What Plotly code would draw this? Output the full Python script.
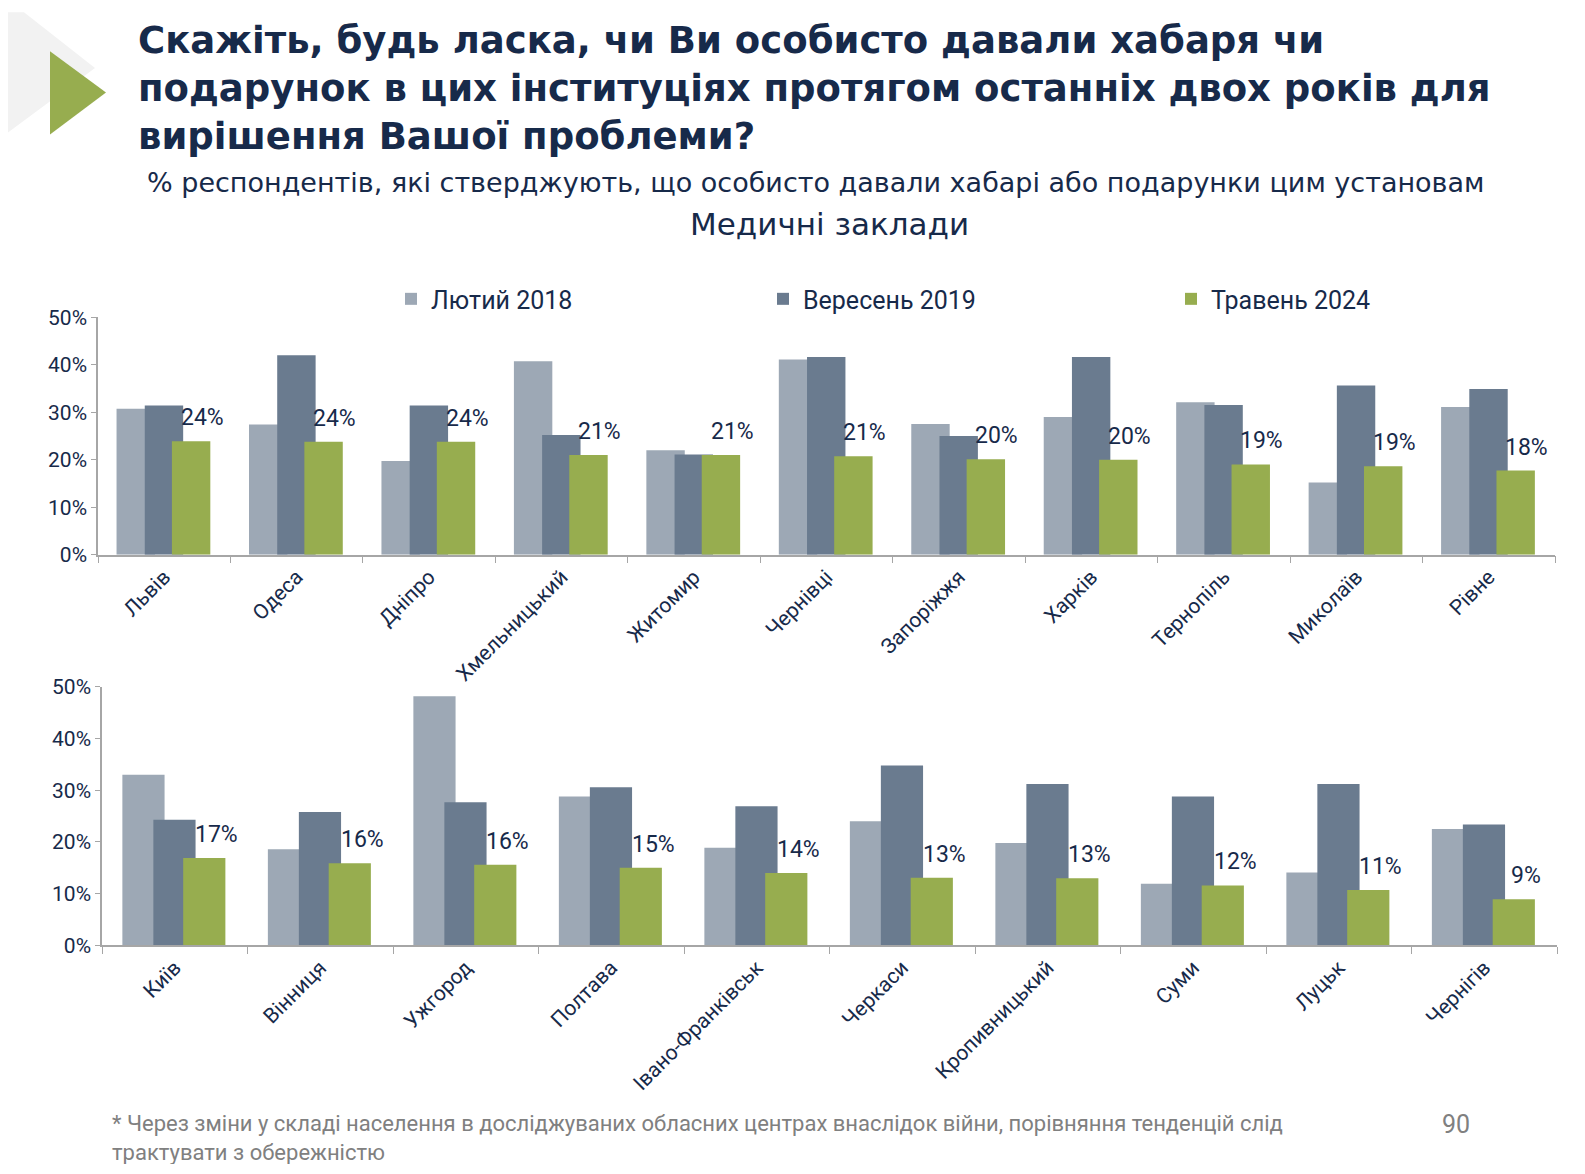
import plotly.graph_objects as go

W, H = 1585, 1174
OFF = 8  # page body margin
FW, FH = W - 2 * OFF, H - 2 * OFF - 2

top_cities = ["Львів", "Одеса", "Дніпро", "Хмельницький", "Житомир", "Чернівці",
              "Запоріжжя", "Харків", "Тернопіль", "Миколаїв", "Рівне"]
top_2018 = [30.7, 27.4, 19.7, 40.7, 22.0, 41.1, 27.5, 29.0, 32.1, 15.2, 31.1]
top_2019 = [31.4, 42.0, 31.4, 25.2, 21.1, 41.6, 25.0, 41.6, 31.5, 35.6, 34.9]
top_2024 = [23.9, 23.8, 23.8, 21.0, 21.0, 20.7, 20.1, 20.0, 19.0, 18.6, 17.7]

bot_cities = ["Київ", "Вінниця", "Ужгород", "Полтава", "Івано-Франківськ", "Черкаси",
              "Кропивницький", "Суми", "Луцьк", "Чернігів"]
bot_2018 = [33.0, 18.6, 48.2, 28.8, 18.9, 24.0, 19.8, 11.9, 14.1, 22.5]
bot_2019 = [24.3, 25.8, 27.7, 30.6, 26.9, 34.8, 31.2, 28.8, 31.2, 23.4]
bot_2024 = [16.9, 15.9, 15.6, 15.0, 14.0, 13.1, 13.0, 11.6, 10.7, 8.9]

series_names = ["Лютий 2018", "Вересень 2019", "Травень 2024"]
colors = ["#9da8b5", "#6a7b8f", "#97ad4f"]
offsets = [-0.36, -0.147, 0.058]
BW = 0.29

NAVY = "#172a4a"
CH_FONT = "Liberation Sans Narrow, Roboto, sans-serif"

def px(x):
    return (x - OFF) / FW

def py(y):
    return 1 - (y - OFF) / FH

fig = go.Figure()

top_series = [top_2018, top_2019, top_2024]
bot_series = [bot_2018, bot_2019, bot_2024]
legends = ["legend", "legend2", "legend3"]

for i in range(3):
    fig.add_trace(go.Bar(x=top_cities, y=top_series[i], name=series_names[i],
                         marker=dict(color=colors[i], line=dict(width=0)),
                         width=BW, offset=offsets[i], xaxis="x", yaxis="y",
                         legend=legends[i], showlegend=True))
for i in range(3):
    fig.add_trace(go.Bar(x=bot_cities, y=bot_series[i], name=series_names[i],
                         marker=dict(color=colors[i], line=dict(width=0)),
                         width=BW, offset=offsets[i], xaxis="x2", yaxis="y2",
                         showlegend=False))

annotations = []
for c, v in zip(top_cities, top_2024):
    annotations.append(dict(x=c, y=v, xref="x", yref="y", text=f"{round(v)}%",
                            showarrow=False, xanchor="center", yanchor="bottom",
                            xshift=38, yshift=8, font=dict(size=23, color=NAVY, family=CH_FONT)))
for c, v in zip(bot_cities, bot_2024):
    annotations.append(dict(x=c, y=v, xref="x2", yref="y2", text=f"{round(v)}%",
                            showarrow=False, xanchor="center", yanchor="bottom",
                            xshift=42, yshift=8, font=dict(size=23, color=NAVY, family=CH_FONT)))

# titles
annotations.append(dict(x=px(136), y=py(5), xref="paper", yref="paper", xanchor="left", yanchor="top",
                        align="left", showarrow=False,
                        text="<b>Скажіть, будь ласка, чи Ви особисто давали хабаря чи<br>"
                             "подарунок в цих інституціях протягом останніх двох років для<br>"
                             "вирішення Вашої проблеми?</b>",
                        font=dict(size=37, color=NAVY, family="DejaVu Sans")))
annotations.append(dict(x=px(815), y=py(174), xref="paper", yref="paper", xanchor="center", yanchor="middle",
                        showarrow=False,
                        text="% респондентів, які стверджують, що особисто давали хабарі або подарунки цим установам",
                        font=dict(size=27, color=NAVY, family="DejaVu Sans")))
annotations.append(dict(x=px(829), y=py(216), xref="paper", yref="paper", xanchor="center", yanchor="middle",
                        showarrow=False, text="Медичні заклади",
                        font=dict(size=31, color=NAVY, family="DejaVu Sans")))
annotations.append(dict(x=px(110), y=py(1120), xref="paper", yref="paper", xanchor="left", yanchor="top",
                        align="left", showarrow=False,
                        text="* Через зміни у складі населення в досліджуваних обласних центрах внаслідок війни, порівняння тенденцій слід<br>"
                             "трактувати з обережністю",
                        font=dict(size=22, color="#808080", family=CH_FONT)))
annotations.append(dict(x=px(1456), y=py(1136), xref="paper", yref="paper", xanchor="center", yanchor="middle",
                        showarrow=False, text="90",
                        font=dict(size=25, color="#808080", family=CH_FONT)))

shapes = [
    dict(type="path", xref="paper", yref="paper", layer="below",
         path=f"M {px(0)},{py(0)} L {px(24)},{py(0)} L {px(95)},{py(57)} L {px(0)},{py(129)} Z",
         fillcolor="#f2f2f2", line=dict(width=0)),
    dict(type="path", xref="paper", yref="paper",
         path=f"M {px(50)},{py(40)} L {px(106)},{py(82)} L {px(50)},{py(125)} Z",
         fillcolor="#97ad4f", line=dict(width=0)),
]

xaxis_common = dict(type="category", showline=True, linecolor="#a6a6a6", linewidth=1.5,
                    ticks="outside", tickson="boundaries", ticklen=7, tickcolor="#a6a6a6",
                    tickangle=-45, tickfont=dict(size=21, color=NAVY, family=CH_FONT),
                    showgrid=False, zeroline=False, fixedrange=True)
yaxis_common = dict(range=[0, 50], dtick=10, ticksuffix="%", showline=True, linecolor="#a6a6a6",
                    linewidth=1.5, ticks="outside", ticklen=5, tickcolor="#a6a6a6",
                    tickfont=dict(size=21, color=NAVY, family=CH_FONT),
                    showgrid=False, zeroline=False, fixedrange=True)

leg_common = dict(orientation="h", yanchor="middle", xanchor="left", bgcolor="rgba(0,0,0,0)",
                  font=dict(size=25, color=NAVY, family=CH_FONT))

fig.update_layout(
    width=FW, height=FH,
    margin=dict(l=0, r=0, t=0, b=0),
    paper_bgcolor="white", plot_bgcolor="white",
    barmode="overlay",
    xaxis=dict(domain=[px(98), px(1555)], anchor="y", **xaxis_common),
    yaxis=dict(domain=[py(554), py(311.5)], anchor="x", **yaxis_common),
    xaxis2=dict(domain=[px(102), px(1557)], anchor="y2", **xaxis_common),
    yaxis2=dict(domain=[py(953), py(689)], anchor="x2", **yaxis_common),
    legend=dict(x=px(391), y=py(293), **leg_common),
    legend2=dict(x=px(763), y=py(293), **leg_common),
    legend3=dict(x=px(1171), y=py(293), **leg_common),
    annotations=annotations,
    shapes=shapes,
    showlegend=True,
)

fig.write_html("out.html")
